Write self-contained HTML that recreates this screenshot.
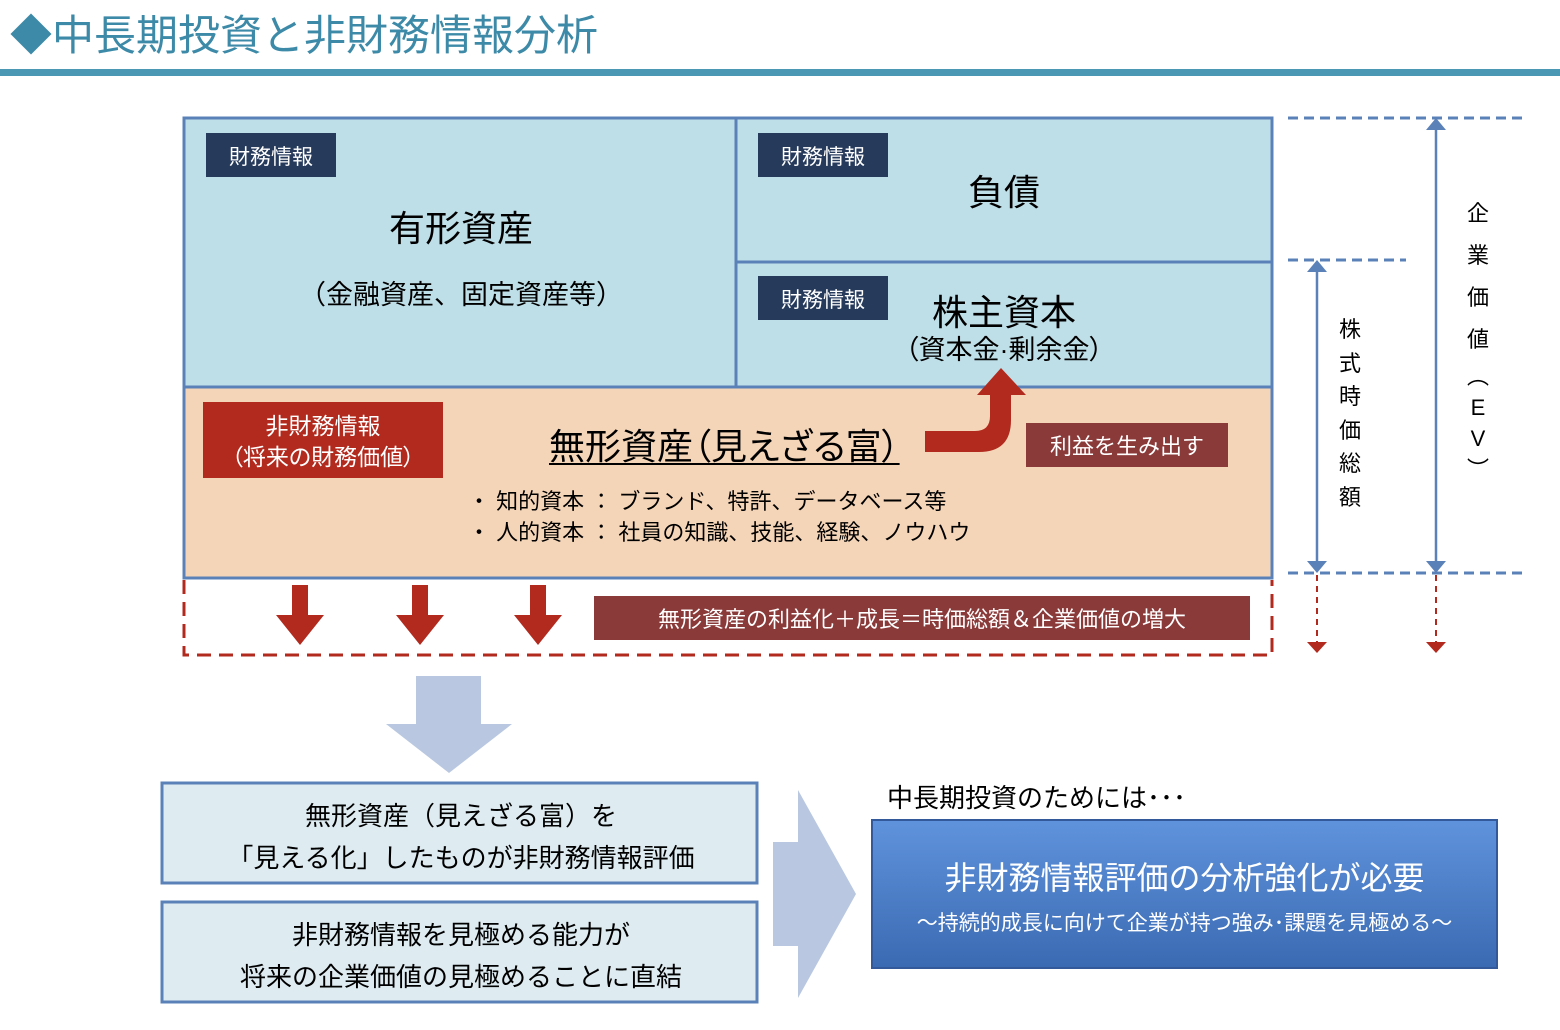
<!DOCTYPE html>
<html><head><meta charset="utf-8"><style>
body{margin:0;width:1560px;height:1030px;background:#fff;position:relative;overflow:hidden;font-family:"Liberation Sans","Noto Sans CJK JP",sans-serif;}
.a{position:absolute;white-space:nowrap;}
.c{text-align:center;}
.p{font-feature-settings:"palt";}
.lab{position:absolute;background:#263a5c;color:#fff;font-size:21px;line-height:50px;text-align:center;width:130px;height:44px;overflow:hidden;}
</style></head><body>
<div class="a" style="left:10px;top:8px;font-size:42px;color:#3d8aa8;line-height:56px;">◆中長期投資と非財務情報分析</div>
<div class="a" style="left:0;top:69px;width:1560px;height:7px;background:#4a98b4;"></div>

<svg class="a" style="left:0;top:0" width="1560" height="1030">
 <rect x="184" y="118" width="1088" height="270" fill="#bfdfe8"/>
 <rect x="184" y="388" width="1088" height="190" fill="#f5d5b8"/>
 <rect x="184" y="118" width="1088" height="460" fill="none" stroke="#5b82b8" stroke-width="3"/>
 <line x1="184" y1="387" x2="1272" y2="387" stroke="#5b82b8" stroke-width="3"/>
 <line x1="736" y1="118" x2="736" y2="387" stroke="#5b82b8" stroke-width="3"/>
 <line x1="736" y1="262" x2="1272" y2="262" stroke="#5b82b8" stroke-width="3"/>
 <path d="M184 580 V655 H1272 V580" fill="none" stroke="#b22a1e" stroke-width="3" stroke-dasharray="14 8"/>
 <g fill="#b22a1e">
  <path d="M292 585h16v30h16l-24 30l-24-30h16z"/>
  <path d="M412 585h16v30h16l-24 30l-24-30h16z"/>
  <path d="M530 585h16v30h16l-24 30l-24-30h16z"/>
  <path d="M925 431 H975 Q990 431 990 416 V395 H977 L1001 368 L1026 395 H1011 V420 Q1011 452 979 452 H925 Z"/>
 </g>
 <g stroke="#5b82b8" stroke-width="3" stroke-dasharray="10 6">
  <line x1="1288" y1="118" x2="1523" y2="118"/>
  <line x1="1288" y1="260" x2="1406" y2="260"/>
  <line x1="1288" y1="573" x2="1523" y2="573"/>
 </g>
 <g stroke="#5b82b8" stroke-width="2.5">
  <line x1="1317" y1="270" x2="1317" y2="563"/>
  <line x1="1436" y1="128" x2="1436" y2="563"/>
 </g>
 <g fill="#5b82b8">
  <path d="M1317 260l-10 12h20z"/><path d="M1317 573l-10-12h20z"/>
  <path d="M1436 118l-10 12h20z"/><path d="M1436 573l-10-12h20z"/>
 </g>
 <g stroke="#b22a1e" stroke-width="2" stroke-dasharray="6 5">
  <line x1="1317" y1="575" x2="1317" y2="642"/><line x1="1436" y1="575" x2="1436" y2="642"/>
 </g>
 <g fill="#b22a1e"><path d="M1307 642h20l-10 11z"/><path d="M1426 642h20l-10 11z"/></g>
 <path d="M416 676h65v48h31l-63 49l-63-49h30z" fill="#b9c8e0"/>
 <path d="M773 842h25v-52l58 104l-58 104v-52h-25z" fill="#b9c8e0"/>
 <rect x="162" y="783" width="595" height="100" fill="#deebf1" stroke="#5b82b8" stroke-width="3"/>
 <rect x="162" y="902" width="595" height="100" fill="#deebf1" stroke="#5b82b8" stroke-width="3"/>
 <defs><linearGradient id="g" x1="0" y1="0" x2="0" y2="1"><stop offset="0" stop-color="#5f93dc"/><stop offset="1" stop-color="#3a6ab2"/></linearGradient></defs>
 <rect x="872" y="820" width="625" height="148" fill="url(#g)" stroke="#34599a" stroke-width="2"/>
</svg>

<div class="lab" style="left:206px;top:133px;">財務情報</div>
<div class="lab" style="left:758px;top:133px;">財務情報</div>
<div class="lab" style="left:758px;top:276px;">財務情報</div>
<div class="a c" style="left:261px;top:205px;width:400px;font-size:36px;line-height:48px;">有形資産</div>
<div class="a c" style="left:261px;top:277px;width:400px;font-size:27px;line-height:36px;">（金融資産、固定資産等）</div>
<div class="a c" style="left:904px;top:169px;width:200px;font-size:36px;line-height:48px;">負債</div>
<div class="a c" style="left:854px;top:290px;width:300px;font-size:36px;line-height:46px;">株主資本</div>
<div class="a c p" style="left:854px;top:332px;width:300px;font-size:27px;line-height:36px;">（資本金·剰余金）</div>
<div class="a c p" style="left:203px;top:402px;width:240px;height:76px;background:#b22a1e;color:#fff;font-size:23px;line-height:31px;padding-top:9px;box-sizing:border-box;">非財務情報<br>（将来の財務価値）</div>
<div class="a p" style="left:549px;top:423px;font-size:36px;line-height:48px;text-decoration:underline;text-underline-offset:4px;text-decoration-thickness:2px;">無形資産（見えざる富）</div>
<div class="a" style="left:468px;top:486px;font-size:22px;line-height:31px;">・ 知的資本 ： ブランド、特許、データベース等<br>・ 人的資本 ： 社員の知識、技能、経験、ノウハウ</div>
<div class="a c" style="left:1026px;top:423px;width:202px;height:44px;background:#8b3a3a;color:#fff;font-size:22px;line-height:48px;">利益を生み出す</div>
<div class="a c" style="left:594px;top:596px;width:656px;height:44px;background:#8b3a3a;color:#fff;font-size:22px;line-height:48px;">無形資産の利益化＋成長＝時価総額＆企業価値の増大</div>
<div class="a c" style="left:1335px;top:313px;width:30px;font-size:22px;line-height:33.5px;white-space:normal;">株<br>式<br>時<br>価<br>総<br>額</div>
<div class="a c" style="left:1463px;top:193px;width:30px;font-size:22px;line-height:42px;white-space:normal;">企<br>業<br>価<br>値<br><span style="line-height:31px;display:block">︵<br>E<br>V<br>︶</span></div>
<div class="a c" style="left:162px;top:795px;width:598px;font-size:26px;line-height:42px;">無形資産（見えざる富）を<br>「見える化」したものが非財務情報評価</div>
<div class="a c" style="left:162px;top:914px;width:598px;font-size:26px;line-height:42px;">非財務情報を見極める能力が<br>将来の企業価値の見極めることに直結</div>
<div class="a" style="left:887px;top:780px;font-size:26px;line-height:36px;">中長期投資のためには･･･</div>
<div class="a c" style="left:872px;top:856px;width:625px;color:#fff;font-size:32px;line-height:44px;">非財務情報評価の分析強化が必要</div>
<div class="a c" style="left:872px;top:909px;width:625px;color:#fff;font-size:21px;line-height:30px;">～持続的成長に向けて企業が持つ強み･課題を見極める～</div>
</body></html>
